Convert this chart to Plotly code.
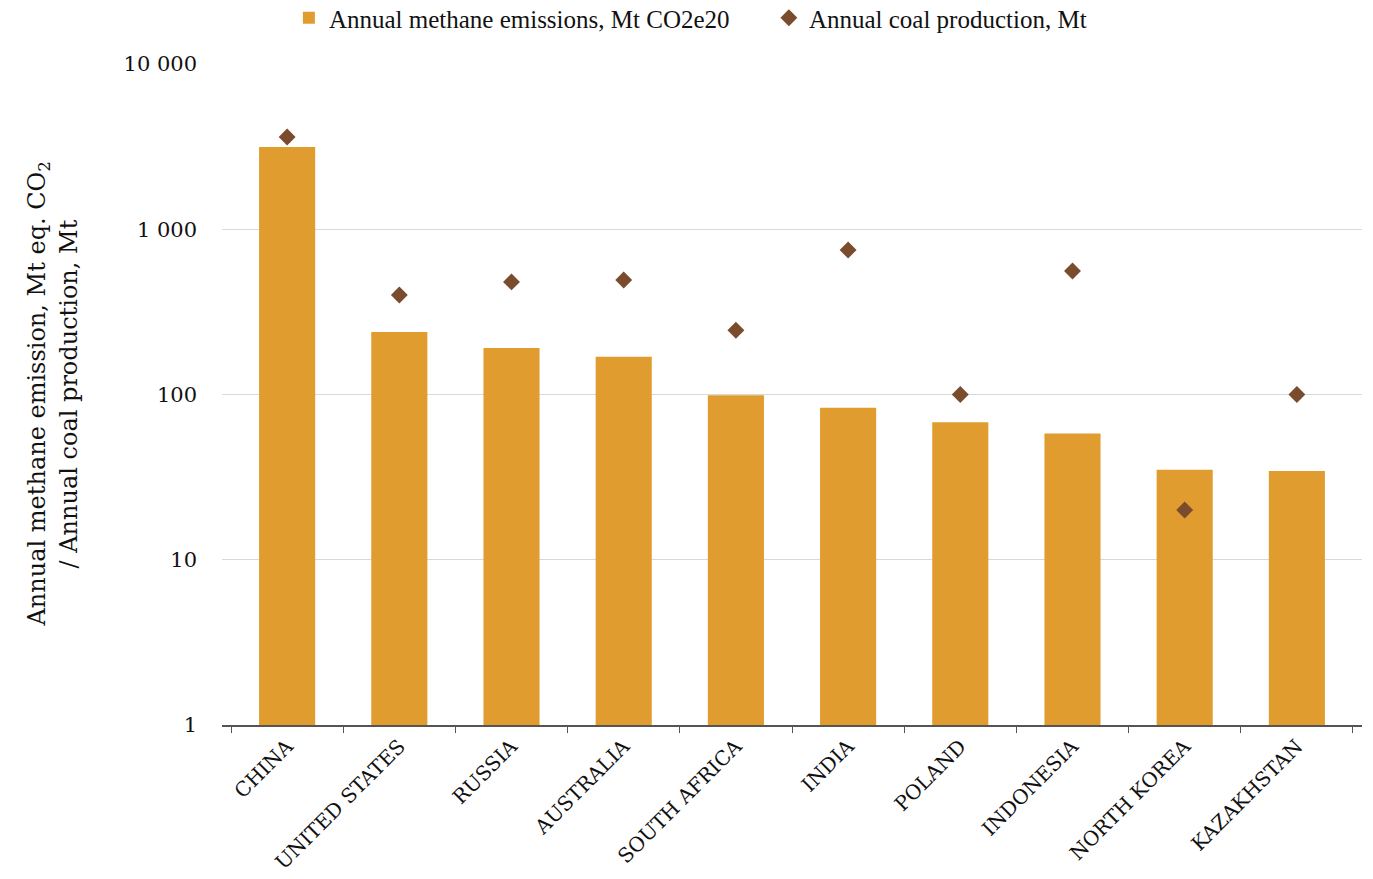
import plotly.graph_objects as go

countries = ["CHINA", "UNITED STATES", "RUSSIA", "AUSTRALIA", "SOUTH AFRICA",
             "INDIA", "POLAND", "INDONESIA", "NORTH KOREA", "KAZAKHSTAN"]
methane_emissions = [3150, 239, 191, 169, 99, 83, 68, 58, 35, 34.5]
coal_production = [3615, 400, 480, 493, 245, 749, 100, 559, 20, 100]

SERIF = "Liberation Serif"
SLAB = "DejaVu Serif"

fig = go.Figure()
fig.add_trace(go.Bar(
    x=countries, y=methane_emissions,
    name="Annual methane emissions, Mt CO2e20",
    marker=dict(color="#E09C2E", line=dict(width=0)),
))
fig.add_trace(go.Scatter(
    x=countries, y=coal_production, mode="markers",
    name="Annual coal production, Mt",
    marker=dict(symbol="diamond", size=13, color="#7A4B2C"),
))

fig.update_layout(
    width=1373, height=879,
    margin=dict(l=222, r=11, t=64, b=154, autoexpand=False),
    plot_bgcolor="white", paper_bgcolor="white",
    bargap=0.5,
    font=dict(family=SERIF, color="#111111", size=17),
    legend=dict(orientation="h", xref="container", yref="container",
                x=0.56, xanchor="center", y=1 - 18 / 879, yanchor="middle",
                font=dict(size=25, family=SERIF), itemwidth=30,
                entrywidth=435, traceorder="normal", tracegroupgap=0),
    showlegend=True,
)

# Two-line rotated axis title
fig.add_annotation(
    text="Annual methane emission, Mt eq. CO<sub>2</sub>",
    xref="paper", yref="paper", x=(38 - 222) / 1140, y=0.5,
    xanchor="center", yanchor="middle", textangle=-90, showarrow=False,
    font=dict(family=SLAB, size=24, color="#111111"),
)
fig.add_annotation(
    text="/ Annual coal production, Mt",
    xref="paper", yref="paper", x=(68 - 222) / 1140, y=0.5,
    xanchor="center", yanchor="middle", textangle=-90, showarrow=False,
    font=dict(family=SLAB, size=24, color="#111111"),
)

fig.update_xaxes(
    tickangle=-45, tickfont=dict(size=20, family=SLAB, color="#111111"),
    showline=True, linecolor="#555555", linewidth=1.5,
    ticks="outside", tickson="boundaries", ticklen=6, tickcolor="#555555",
    showgrid=False, automargin=False,
)
fig.update_yaxes(
    type="log", range=[0, 4],
    tickvals=[1, 10, 100, 1000, 10000],
    ticktext=["1", "10", "100", "1 000", "10 000"],
    tickfont=dict(size=21, family=SLAB, color="#111111"),
    showgrid=True, gridcolor="#d9d9d9", gridwidth=1.3,
    zeroline=False, showline=False, ticks="", ticklabelstandoff=24,
    automargin=False,
)

fig.write_html("out.html")
